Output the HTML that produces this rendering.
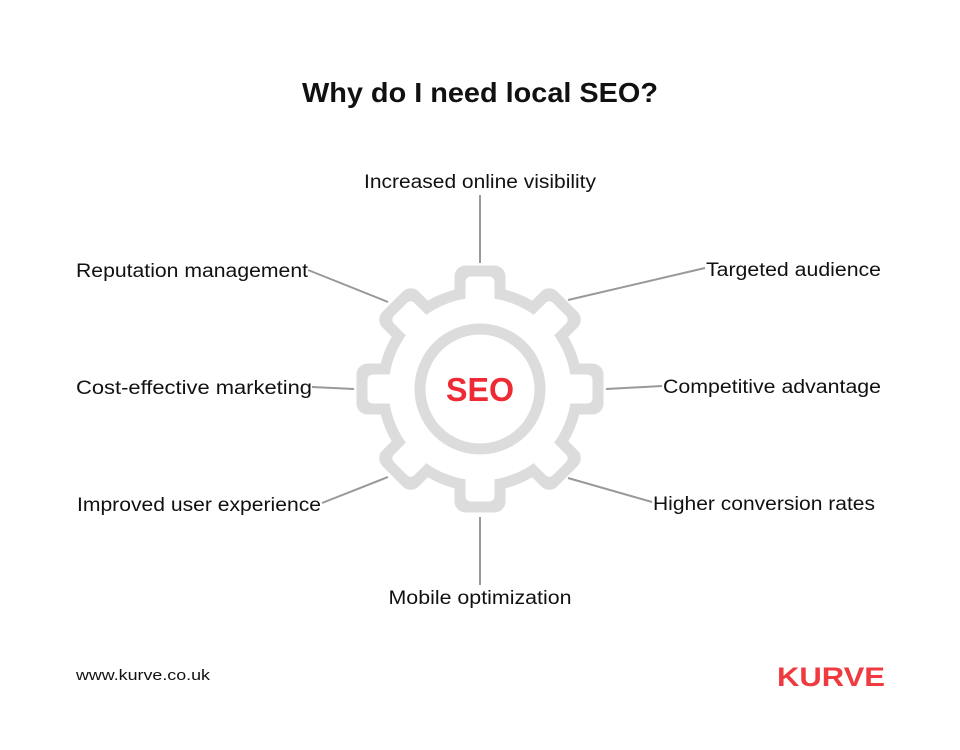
<!DOCTYPE html>
<html><head><meta charset="utf-8"><style>
html,body{margin:0;padding:0;background:#fff;}
svg{display:block;}
text{font-family:"Liberation Sans",sans-serif;fill:#111;}
</style></head><body>
<svg width="960" height="750" viewBox="0 0 960 750">
<rect width="960" height="750" fill="#fff"/>
<text x="480" y="102" text-anchor="middle" font-size="28" font-weight="bold" textLength="356" lengthAdjust="spacingAndGlyphs">Why do I need local SEO?</text>
<g stroke="#999" stroke-width="2">
<line x1="480" y1="195" x2="480" y2="263"/>
<line x1="480" y1="517" x2="480" y2="585"/>
<line x1="568" y1="300" x2="705" y2="268"/>
<line x1="606" y1="389" x2="662" y2="386"/>
<line x1="568" y1="478" x2="652" y2="502"/>
<line x1="308" y1="270" x2="388" y2="302"/>
<line x1="312" y1="387" x2="354" y2="389"/>
<line x1="322" y1="503" x2="388" y2="477"/>
</g>
<g fill="#dcdcdc">
<circle cx="480" cy="389" r="102.5"/>
<g id="tg"><rect x="454.5" y="265.5" width="51" height="60" rx="11"/></g>
<use href="#tg" transform="rotate(45 480 389)"/>
<use href="#tg" transform="rotate(90 480 389)"/>
<use href="#tg" transform="rotate(135 480 389)"/>
<use href="#tg" transform="rotate(180 480 389)"/>
<use href="#tg" transform="rotate(225 480 389)"/>
<use href="#tg" transform="rotate(270 480 389)"/>
<use href="#tg" transform="rotate(315 480 389)"/>
</g>
<g fill="#fff">
<circle cx="480" cy="389" r="91.5"/>
<g id="tw"><rect x="465.5" y="276.5" width="29" height="60" rx="5"/></g>
<use href="#tw" transform="rotate(45 480 389)"/>
<use href="#tw" transform="rotate(90 480 389)"/>
<use href="#tw" transform="rotate(135 480 389)"/>
<use href="#tw" transform="rotate(180 480 389)"/>
<use href="#tw" transform="rotate(225 480 389)"/>
<use href="#tw" transform="rotate(270 480 389)"/>
<use href="#tw" transform="rotate(315 480 389)"/>
</g>
<circle cx="480" cy="389" r="60" fill="none" stroke="#dcdcdc" stroke-width="11"/>
<text x="480" y="401" text-anchor="middle" font-size="33" font-weight="bold" style="fill:#ee2a35" textLength="68" lengthAdjust="spacingAndGlyphs">SEO</text>
<g font-size="19">
<text x="480" y="188" text-anchor="middle" textLength="232" lengthAdjust="spacingAndGlyphs">Increased online visibility</text>
<text x="76" y="277" textLength="232" lengthAdjust="spacingAndGlyphs">Reputation management</text>
<text x="706" y="276" textLength="175" lengthAdjust="spacingAndGlyphs">Targeted audience</text>
<text x="76" y="394" textLength="236" lengthAdjust="spacingAndGlyphs">Cost-effective marketing</text>
<text x="663" y="393" textLength="218" lengthAdjust="spacingAndGlyphs">Competitive advantage</text>
<text x="77" y="511" textLength="244" lengthAdjust="spacingAndGlyphs">Improved user experience</text>
<text x="653" y="510" textLength="222" lengthAdjust="spacingAndGlyphs">Higher conversion rates</text>
<text x="480" y="604" text-anchor="middle" textLength="183" lengthAdjust="spacingAndGlyphs">Mobile optimization</text>
</g>
<text x="76" y="680" font-size="15" textLength="134" lengthAdjust="spacingAndGlyphs">www.kurve.co.uk</text>
<text x="777" y="686" font-size="27" font-weight="bold" style="fill:#ef3b3f" textLength="108" lengthAdjust="spacingAndGlyphs">KURVE</text>
</svg>
</body></html>
